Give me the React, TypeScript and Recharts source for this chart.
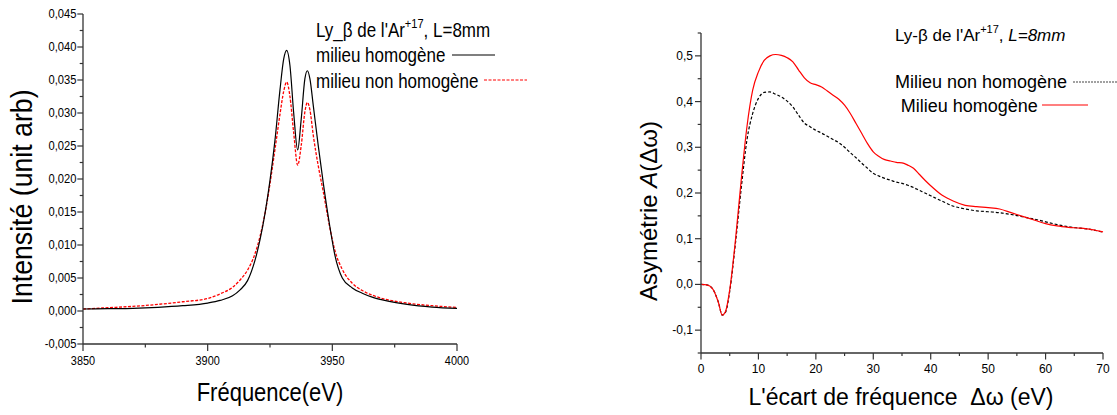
import React from 'react';
import { LineChart, Line, XAxis, YAxis } from 'recharts';

// left panel: Ly-beta profile
const leftFreq = [3850, 3860, 3870, 3880, 3890, 3900, 3905, 3910, 3913, 3916, 3919, 3921, 3923, 3925, 3927, 3929, 3930.5, 3931.7, 3933, 3934.5, 3936.1, 3937.5, 3939, 3940, 3941, 3942.4, 3944.4, 3946.4, 3949, 3951, 3954, 3958, 3962, 3966, 3971, 3980, 3990, 4000];
const leftHomog = [0.0003, 0.00035, 0.0004, 0.00055, 0.0008, 0.0012, 0.0016, 0.0023, 0.0032, 0.0046, 0.0077, 0.0108, 0.0148, 0.0198, 0.0259, 0.0335, 0.0382, 0.0395, 0.0372, 0.03, 0.0244, 0.029, 0.0352, 0.0364, 0.0352, 0.031, 0.0249, 0.0193, 0.0128, 0.0085, 0.005, 0.0035, 0.0027, 0.0021, 0.0016, 0.001, 0.0006, 0.0004];
const leftNonHomog = [0.0003, 0.0005, 0.0007, 0.001, 0.0014, 0.0019, 0.0026, 0.0036, 0.0047, 0.0062, 0.0087, 0.0113, 0.0148, 0.0193, 0.0245, 0.0298, 0.0333, 0.0347, 0.0325, 0.027, 0.0221, 0.025, 0.0302, 0.0316, 0.0305, 0.0265, 0.0219, 0.018, 0.0126, 0.0092, 0.0063, 0.0042, 0.0031, 0.0024, 0.0018, 0.0012, 0.0008, 0.00055];
const leftXTicks = [3850, 3875, 3900, 3925, 3950, 3975, 4000];
const leftXMajor = [3850, 3900, 3950, 4000];
const leftYTicks = [-0.005, -0.0025, 0, 0.0025, 0.005, 0.0075, 0.01, 0.0125, 0.015, 0.0175, 0.02, 0.0225, 0.025, 0.0275, 0.03, 0.0325, 0.035, 0.0375, 0.04, 0.0425, 0.045];
const leftYMajor = [-0.005, 0, 0.005, 0.01, 0.015, 0.02, 0.025, 0.03, 0.035, 0.04, 0.045];

// right panel: asymmetry
const rightDelta = [0, 1, 2, 3, 3.7, 4.3, 5, 6, 7, 8, 9, 10, 11, 12, 13, 14, 15, 16, 17, 18, 19, 20, 21, 22, 23, 24, 25, 26, 27, 28, 29, 30, 31, 32, 33, 34, 35, 36, 37, 38, 39, 40, 42, 44, 46, 48, 50, 52, 54, 56, 58, 60, 62, 64, 66, 68, 70];
const rightHomog = [0, -0.001, -0.009, -0.038, -0.067, -0.058, -0.012, 0.097, 0.228, 0.345, 0.425, 0.465, 0.49, 0.5, 0.503, 0.501, 0.496, 0.487, 0.469, 0.452, 0.441, 0.437, 0.432, 0.423, 0.414, 0.405, 0.392, 0.374, 0.352, 0.33, 0.308, 0.29, 0.28, 0.273, 0.27, 0.267, 0.266, 0.261, 0.254, 0.241, 0.228, 0.216, 0.195, 0.182, 0.173, 0.17, 0.168, 0.165, 0.157, 0.149, 0.141, 0.133, 0.128, 0.125, 0.123, 0.12, 0.115];
const rightNonHomog = [0, -0.001, -0.009, -0.038, -0.067, -0.06, -0.015, 0.09, 0.21, 0.316, 0.374, 0.407, 0.42, 0.421, 0.416, 0.41, 0.401, 0.388, 0.37, 0.353, 0.345, 0.337, 0.331, 0.324, 0.317, 0.31, 0.3, 0.288, 0.277, 0.265, 0.254, 0.243, 0.237, 0.232, 0.228, 0.224, 0.221, 0.217, 0.212, 0.206, 0.2, 0.194, 0.182, 0.171, 0.165, 0.161, 0.159, 0.157, 0.153, 0.148, 0.143, 0.137, 0.131, 0.126, 0.123, 0.12, 0.114];
const rightXTicks = [0, 5, 10, 15, 20, 25, 30, 35, 40, 45, 50, 55, 60, 65, 70];
const rightXMajor = [0, 10, 20, 30, 40, 50, 60, 70];
const rightYTicks = [-0.15, -0.1, -0.05, 0, 0.05, 0.1, 0.15, 0.2, 0.25, 0.3, 0.35, 0.4, 0.45, 0.5, 0.55];
const rightYMajor = [-0.1, 0, 0.1, 0.2, 0.3, 0.4, 0.5];

const leftData = leftFreq.map((f, i) => ({ f, homog: leftHomog[i], nonHomog: leftNonHomog[i] }));
const rightData = rightDelta.map((d, i) => ({ d, homog: rightHomog[i], nonHomog: rightNonHomog[i] }));

const SANS = '"Liberation Sans", Arial, Helvetica, sans-serif';
const AXIS = '#333';

const isIn = (arr: number[], v: number) => arr.some((m) => Math.abs(m - v) < 1e-9);
const comma = (v: number, d: number) => v.toFixed(d).replace('.', ',');

// sx < 1 squeezes the glyphs, the left panel uses a narrow face
const yTick = (majors: number[], digits: number, size: number, sx: number, majorLen: number, minorLen: number, gap: number) =>
  (props: any) => {
    const { x, y, payload } = props;
    const major = isIn(majors, payload.value);
    return (
      <g>
        <line x1={x - (major ? majorLen : minorLen)} x2={x} y1={y} y2={y} stroke={AXIS} strokeWidth={1.2} />
        {major && (
          <text transform={`translate(${x - gap},${y}) scale(${sx},1)`} textAnchor="end" dominantBaseline="central" fontFamily={SANS} fontSize={size} fill="#000">
            {comma(payload.value, digits)}
          </text>
        )}
      </g>
    );
  };

const xTick = (majors: number[], size: number, sx: number, majorLen: number, minorLen: number, offset: number) =>
  (props: any) => {
    const { x, y, payload } = props;
    const major = isIn(majors, payload.value);
    return (
      <g>
        <line x1={x} x2={x} y1={y} y2={y + (major ? majorLen : minorLen)} stroke={AXIS} strokeWidth={1.2} />
        {major && (
          <text transform={`translate(${x},${y + offset}) scale(${sx},1)`} textAnchor="middle" fontFamily={SANS} fontSize={size} fill="#000">
            {payload.value}
          </text>
        )}
      </g>
    );
  };

const LeftPanel = () => (
  <div style={{ position: 'absolute', left: 0, top: 0, width: 560, height: 415 }}>
    <LineChart width={560} height={415} data={leftData} margin={{ top: 14, right: 103, bottom: 0, left: 0 }}>
      <XAxis
        dataKey="f"
        type="number"
        domain={[3850, 4000]}
        ticks={leftXTicks}
        interval={0}
        height={71}
        tickSize={0}
        tickMargin={0}
        tickLine={false}
        axisLine={{ stroke: AXIS, strokeWidth: 1.3 }}
        tick={xTick(leftXMajor, 13, 0.84, 7, 3.5, 21)}
      />
      <YAxis
        type="number"
        domain={[-0.005, 0.045]}
        ticks={leftYTicks}
        interval={0}
        width={83}
        tickSize={0}
        tickMargin={0}
        tickLine={false}
        axisLine={{ stroke: AXIS, strokeWidth: 1.3 }}
        tick={yTick(leftYMajor, 3, 13, 0.86, 5.7, 3.3, 6.5)}
      />
      <Line type="monotone" dataKey="nonHomog" stroke="#ff0000" strokeWidth={1.3} strokeDasharray="3 1.5" dot={false} isAnimationActive={false} />
      <Line type="monotone" dataKey="homog" stroke="#000" strokeWidth={1.2} dot={false} isAnimationActive={false} />
    </LineChart>
    <svg width={560} height={415} style={{ position: 'absolute', left: 0, top: 0, pointerEvents: 'none' }}>
      <text transform="translate(32,197) rotate(-90) scale(0.89,1)" textAnchor="middle" fontFamily={SANS} fontSize={30}>
        Intensité (unit arb)
      </text>
      <text transform="translate(270,401) scale(0.88,1)" textAnchor="middle" fontFamily={SANS} fontSize={25}>
        Fréquence(eV)
      </text>
      <g transform="translate(316,0) scale(0.85,1)">
        <text x={0} y={37.5} fontFamily={SANS} fontSize={20}>
          Ly_β de l'Ar<tspan dy={-9} fontSize={13}>+17</tspan><tspan dy={9}>, L=8mm</tspan>
        </text>
        <text x={0} y={62} fontFamily={SANS} fontSize={20}>milieu homogène</text>
        <text x={0} y={88} fontFamily={SANS} fontSize={20}>milieu non homogène</text>
      </g>
      <line x1={452} x2={495} y1={55} y2={55} stroke="#000" strokeWidth={1.2} />
      <line x1={484} x2={527} y1={80} y2={80} stroke="#ff0000" strokeWidth={1.2} strokeDasharray="3 1.5" />
    </svg>
  </div>
);

const RightPanel = () => (
  <div style={{ position: 'absolute', left: 560, top: 0, width: 557, height: 415 }}>
    <LineChart width={557} height={415} data={rightData} margin={{ top: 33, right: 14, bottom: 0, left: 0 }}>
      <XAxis
        dataKey="d"
        type="number"
        domain={[0, 70]}
        ticks={rightXTicks}
        interval={0}
        height={62}
        tickSize={0}
        tickMargin={0}
        tickLine={false}
        axisLine={{ stroke: AXIS, strokeWidth: 1.3 }}
        tick={xTick(rightXMajor, 12, 1, 6.5, 3, 20)}
      />
      <YAxis
        type="number"
        domain={[-0.15, 0.55]}
        ticks={rightYTicks}
        interval={0}
        width={141}
        tickSize={0}
        tickMargin={0}
        tickLine={false}
        axisLine={{ stroke: AXIS, strokeWidth: 1.3 }}
        tick={yTick(rightYMajor, 1, 12, 1, 6, 3.3, 8)}
      />
      <Line type="monotone" dataKey="nonHomog" stroke="#000" strokeWidth={1.2} strokeDasharray="3 2" dot={false} isAnimationActive={false} />
      <Line type="monotone" dataKey="homog" stroke="#ff0000" strokeWidth={1.2} dot={false} isAnimationActive={false} />
    </LineChart>
    <svg width={557} height={415} style={{ position: 'absolute', left: 0, top: 0, pointerEvents: 'none' }}>
      <text transform="rotate(-90, 97, 211)" x={97} y={211} textAnchor="middle" fontFamily={SANS} fontSize={24}>
        Asymétrie <tspan fontStyle="italic">A</tspan>(Δω)
      </text>
      <text x={341} y={405} textAnchor="middle" fontFamily={SANS} fontSize={23} style={{ whiteSpace: 'pre' }}>
        {"L'écart de fréquence  Δω (eV)"}
      </text>
      <text x={335} y={40.7} fontFamily={SANS} fontSize={17}>
        Ly-β de l'Ar<tspan dy={-8} fontSize={11}>+17</tspan><tspan dy={8}>, </tspan><tspan fontStyle="italic">L=8mm</tspan>
      </text>
      <text x={335} y={88.3} fontFamily={SANS} fontSize={18}>Milieu non homogène</text>
      <line x1={513} x2={557} y1={82} y2={82} stroke="#444" strokeWidth={1.2} strokeDasharray="2 1" />
      <text x={340.7} y={111.7} fontFamily={SANS} fontSize={18}>Milieu homogène</text>
      <line x1={482} x2={528} y1={105} y2={105} stroke="#ff0000" strokeWidth={1.2} />
    </svg>
  </div>
);

export default function App() {
  return (
    <div style={{ position: 'absolute', left: 0, top: 0, width: 1117, height: 415, background: '#fff' }}>
      <LeftPanel />
      <RightPanel />
    </div>
  );
}
